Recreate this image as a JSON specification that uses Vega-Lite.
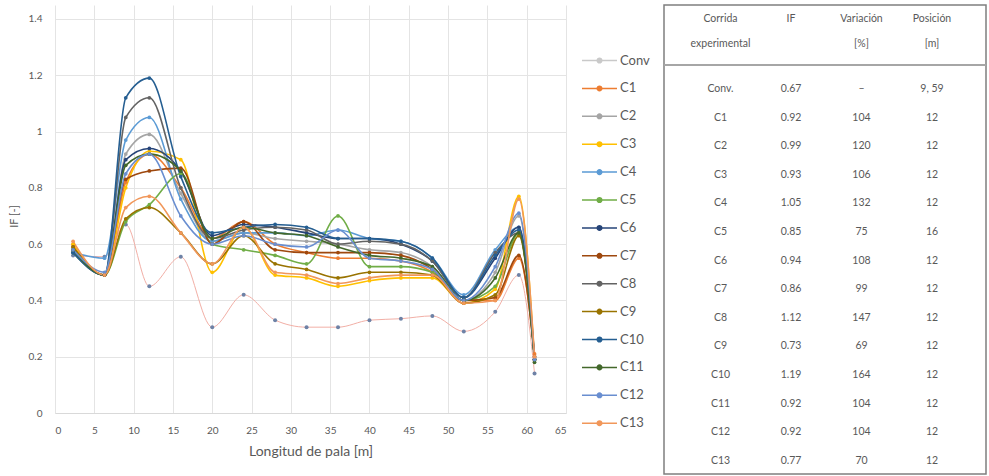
{
"$schema":"https://vega.github.io/schema/vega-lite/v6.json",
"padding":{"left":8,"top":4,"right":0,"bottom":0},
"background":"white",
"config":{"font":"Lato","view":{"stroke":null},"concat":{"spacing":96}},
"datasets":{
"curvas":[
{"corrida":"Conv","longitud":2.3,"IF":0.56},{"corrida":"Conv","longitud":6.3,"IF":0.555},{"corrida":"Conv","longitud":9,"IF":0.67},{"corrida":"Conv","longitud":12,"IF":0.45},{"corrida":"Conv","longitud":16,"IF":0.555},{"corrida":"Conv","longitud":20,"IF":0.305},{"corrida":"Conv","longitud":24,"IF":0.42},{"corrida":"Conv","longitud":28,"IF":0.33},{"corrida":"Conv","longitud":32,"IF":0.305},{"corrida":"Conv","longitud":36,"IF":0.305},{"corrida":"Conv","longitud":40,"IF":0.33},{"corrida":"Conv","longitud":44,"IF":0.335},{"corrida":"Conv","longitud":48,"IF":0.345},{"corrida":"Conv","longitud":52,"IF":0.29},{"corrida":"Conv","longitud":56,"IF":0.36},{"corrida":"Conv","longitud":59,"IF":0.49},{"corrida":"Conv","longitud":61,"IF":0.14},
{"corrida":"C1","longitud":2.3,"IF":0.60},{"corrida":"C1","longitud":6.3,"IF":0.49},{"corrida":"C1","longitud":9,"IF":0.82},{"corrida":"C1","longitud":12,"IF":0.92},{"corrida":"C1","longitud":16,"IF":0.80},{"corrida":"C1","longitud":20,"IF":0.62},{"corrida":"C1","longitud":24,"IF":0.68},{"corrida":"C1","longitud":28,"IF":0.60},{"corrida":"C1","longitud":32,"IF":0.57},{"corrida":"C1","longitud":36,"IF":0.55},{"corrida":"C1","longitud":40,"IF":0.55},{"corrida":"C1","longitud":44,"IF":0.54},{"corrida":"C1","longitud":48,"IF":0.50},{"corrida":"C1","longitud":52,"IF":0.40},{"corrida":"C1","longitud":56,"IF":0.40},{"corrida":"C1","longitud":59,"IF":0.55},{"corrida":"C1","longitud":61,"IF":0.21},
{"corrida":"C2","longitud":2.3,"IF":0.58},{"corrida":"C2","longitud":6.3,"IF":0.49},{"corrida":"C2","longitud":9,"IF":0.92},{"corrida":"C2","longitud":12,"IF":0.99},{"corrida":"C2","longitud":16,"IF":0.78},{"corrida":"C2","longitud":20,"IF":0.61},{"corrida":"C2","longitud":24,"IF":0.64},{"corrida":"C2","longitud":28,"IF":0.62},{"corrida":"C2","longitud":32,"IF":0.61},{"corrida":"C2","longitud":36,"IF":0.60},{"corrida":"C2","longitud":40,"IF":0.58},{"corrida":"C2","longitud":44,"IF":0.57},{"corrida":"C2","longitud":48,"IF":0.52},{"corrida":"C2","longitud":52,"IF":0.40},{"corrida":"C2","longitud":56,"IF":0.50},{"corrida":"C2","longitud":59,"IF":0.70},{"corrida":"C2","longitud":61,"IF":0.19},
{"corrida":"C3","longitud":2.3,"IF":0.60},{"corrida":"C3","longitud":6.3,"IF":0.49},{"corrida":"C3","longitud":9,"IF":0.80},{"corrida":"C3","longitud":12,"IF":0.93},{"corrida":"C3","longitud":16,"IF":0.90},{"corrida":"C3","longitud":20,"IF":0.50},{"corrida":"C3","longitud":24,"IF":0.66},{"corrida":"C3","longitud":28,"IF":0.49},{"corrida":"C3","longitud":32,"IF":0.48},{"corrida":"C3","longitud":36,"IF":0.45},{"corrida":"C3","longitud":40,"IF":0.47},{"corrida":"C3","longitud":44,"IF":0.48},{"corrida":"C3","longitud":48,"IF":0.48},{"corrida":"C3","longitud":52,"IF":0.39},{"corrida":"C3","longitud":56,"IF":0.44},{"corrida":"C3","longitud":59,"IF":0.77},{"corrida":"C3","longitud":61,"IF":0.19},
{"corrida":"C4","longitud":2.3,"IF":0.57},{"corrida":"C4","longitud":6.3,"IF":0.55},{"corrida":"C4","longitud":9,"IF":0.97},{"corrida":"C4","longitud":12,"IF":1.05},{"corrida":"C4","longitud":16,"IF":0.76},{"corrida":"C4","longitud":20,"IF":0.61},{"corrida":"C4","longitud":24,"IF":0.64},{"corrida":"C4","longitud":28,"IF":0.64},{"corrida":"C4","longitud":32,"IF":0.63},{"corrida":"C4","longitud":36,"IF":0.65},{"corrida":"C4","longitud":40,"IF":0.62},{"corrida":"C4","longitud":44,"IF":0.61},{"corrida":"C4","longitud":48,"IF":0.55},{"corrida":"C4","longitud":52,"IF":0.42},{"corrida":"C4","longitud":56,"IF":0.58},{"corrida":"C4","longitud":59,"IF":0.66},{"corrida":"C4","longitud":61,"IF":0.20},
{"corrida":"C5","longitud":2.3,"IF":0.57},{"corrida":"C5","longitud":6.3,"IF":0.49},{"corrida":"C5","longitud":9,"IF":0.68},{"corrida":"C5","longitud":12,"IF":0.74},{"corrida":"C5","longitud":16,"IF":0.85},{"corrida":"C5","longitud":20,"IF":0.60},{"corrida":"C5","longitud":24,"IF":0.58},{"corrida":"C5","longitud":28,"IF":0.56},{"corrida":"C5","longitud":32,"IF":0.53},{"corrida":"C5","longitud":36,"IF":0.70},{"corrida":"C5","longitud":40,"IF":0.52},{"corrida":"C5","longitud":44,"IF":0.52},{"corrida":"C5","longitud":48,"IF":0.50},{"corrida":"C5","longitud":52,"IF":0.40},{"corrida":"C5","longitud":56,"IF":0.45},{"corrida":"C5","longitud":59,"IF":0.64},{"corrida":"C5","longitud":61,"IF":0.19},
{"corrida":"C6","longitud":2.3,"IF":0.57},{"corrida":"C6","longitud":6.3,"IF":0.49},{"corrida":"C6","longitud":9,"IF":0.90},{"corrida":"C6","longitud":12,"IF":0.94},{"corrida":"C6","longitud":16,"IF":0.86},{"corrida":"C6","longitud":20,"IF":0.63},{"corrida":"C6","longitud":24,"IF":0.67},{"corrida":"C6","longitud":28,"IF":0.66},{"corrida":"C6","longitud":32,"IF":0.64},{"corrida":"C6","longitud":36,"IF":0.62},{"corrida":"C6","longitud":40,"IF":0.62},{"corrida":"C6","longitud":44,"IF":0.60},{"corrida":"C6","longitud":48,"IF":0.54},{"corrida":"C6","longitud":52,"IF":0.41},{"corrida":"C6","longitud":56,"IF":0.55},{"corrida":"C6","longitud":59,"IF":0.66},{"corrida":"C6","longitud":61,"IF":0.19},
{"corrida":"C7","longitud":2.3,"IF":0.59},{"corrida":"C7","longitud":6.3,"IF":0.49},{"corrida":"C7","longitud":9,"IF":0.83},{"corrida":"C7","longitud":12,"IF":0.86},{"corrida":"C7","longitud":16,"IF":0.87},{"corrida":"C7","longitud":20,"IF":0.60},{"corrida":"C7","longitud":24,"IF":0.68},{"corrida":"C7","longitud":28,"IF":0.58},{"corrida":"C7","longitud":32,"IF":0.57},{"corrida":"C7","longitud":36,"IF":0.57},{"corrida":"C7","longitud":40,"IF":0.57},{"corrida":"C7","longitud":44,"IF":0.56},{"corrida":"C7","longitud":48,"IF":0.51},{"corrida":"C7","longitud":52,"IF":0.40},{"corrida":"C7","longitud":56,"IF":0.41},{"corrida":"C7","longitud":59,"IF":0.56},{"corrida":"C7","longitud":61,"IF":0.20},
{"corrida":"C8","longitud":2.3,"IF":0.58},{"corrida":"C8","longitud":6.3,"IF":0.49},{"corrida":"C8","longitud":9,"IF":1.05},{"corrida":"C8","longitud":12,"IF":1.12},{"corrida":"C8","longitud":16,"IF":0.80},{"corrida":"C8","longitud":20,"IF":0.62},{"corrida":"C8","longitud":24,"IF":0.65},{"corrida":"C8","longitud":28,"IF":0.66},{"corrida":"C8","longitud":32,"IF":0.65},{"corrida":"C8","longitud":36,"IF":0.60},{"corrida":"C8","longitud":40,"IF":0.61},{"corrida":"C8","longitud":44,"IF":0.60},{"corrida":"C8","longitud":48,"IF":0.54},{"corrida":"C8","longitud":52,"IF":0.41},{"corrida":"C8","longitud":56,"IF":0.57},{"corrida":"C8","longitud":59,"IF":0.64},{"corrida":"C8","longitud":61,"IF":0.19},
{"corrida":"C9","longitud":2.3,"IF":0.59},{"corrida":"C9","longitud":6.3,"IF":0.49},{"corrida":"C9","longitud":9,"IF":0.69},{"corrida":"C9","longitud":12,"IF":0.73},{"corrida":"C9","longitud":16,"IF":0.64},{"corrida":"C9","longitud":20,"IF":0.53},{"corrida":"C9","longitud":24,"IF":0.63},{"corrida":"C9","longitud":28,"IF":0.53},{"corrida":"C9","longitud":32,"IF":0.51},{"corrida":"C9","longitud":36,"IF":0.48},{"corrida":"C9","longitud":40,"IF":0.50},{"corrida":"C9","longitud":44,"IF":0.50},{"corrida":"C9","longitud":48,"IF":0.49},{"corrida":"C9","longitud":52,"IF":0.39},{"corrida":"C9","longitud":56,"IF":0.42},{"corrida":"C9","longitud":59,"IF":0.63},{"corrida":"C9","longitud":61,"IF":0.19},
{"corrida":"C10","longitud":2.3,"IF":0.57},{"corrida":"C10","longitud":6.3,"IF":0.49},{"corrida":"C10","longitud":9,"IF":1.12},{"corrida":"C10","longitud":12,"IF":1.19},{"corrida":"C10","longitud":16,"IF":0.84},{"corrida":"C10","longitud":20,"IF":0.64},{"corrida":"C10","longitud":24,"IF":0.66},{"corrida":"C10","longitud":28,"IF":0.67},{"corrida":"C10","longitud":32,"IF":0.66},{"corrida":"C10","longitud":36,"IF":0.62},{"corrida":"C10","longitud":40,"IF":0.62},{"corrida":"C10","longitud":44,"IF":0.61},{"corrida":"C10","longitud":48,"IF":0.55},{"corrida":"C10","longitud":52,"IF":0.41},{"corrida":"C10","longitud":56,"IF":0.56},{"corrida":"C10","longitud":59,"IF":0.65},{"corrida":"C10","longitud":61,"IF":0.19},
{"corrida":"C11","longitud":2.3,"IF":0.58},{"corrida":"C11","longitud":6.3,"IF":0.49},{"corrida":"C11","longitud":9,"IF":0.88},{"corrida":"C11","longitud":12,"IF":0.92},{"corrida":"C11","longitud":16,"IF":0.86},{"corrida":"C11","longitud":20,"IF":0.62},{"corrida":"C11","longitud":24,"IF":0.66},{"corrida":"C11","longitud":28,"IF":0.64},{"corrida":"C11","longitud":32,"IF":0.63},{"corrida":"C11","longitud":36,"IF":0.59},{"corrida":"C11","longitud":40,"IF":0.56},{"corrida":"C11","longitud":44,"IF":0.55},{"corrida":"C11","longitud":48,"IF":0.52},{"corrida":"C11","longitud":52,"IF":0.40},{"corrida":"C11","longitud":56,"IF":0.48},{"corrida":"C11","longitud":59,"IF":0.64},{"corrida":"C11","longitud":61,"IF":0.18},
{"corrida":"C12","longitud":2.3,"IF":0.58},{"corrida":"C12","longitud":6.3,"IF":0.50},{"corrida":"C12","longitud":9,"IF":0.85},{"corrida":"C12","longitud":12,"IF":0.92},{"corrida":"C12","longitud":16,"IF":0.70},{"corrida":"C12","longitud":20,"IF":0.60},{"corrida":"C12","longitud":24,"IF":0.63},{"corrida":"C12","longitud":28,"IF":0.60},{"corrida":"C12","longitud":32,"IF":0.59},{"corrida":"C12","longitud":36,"IF":0.65},{"corrida":"C12","longitud":40,"IF":0.55},{"corrida":"C12","longitud":44,"IF":0.54},{"corrida":"C12","longitud":48,"IF":0.51},{"corrida":"C12","longitud":52,"IF":0.40},{"corrida":"C12","longitud":56,"IF":0.52},{"corrida":"C12","longitud":59,"IF":0.71},{"corrida":"C12","longitud":61,"IF":0.19},
{"corrida":"C13","longitud":2.3,"IF":0.61},{"corrida":"C13","longitud":6.3,"IF":0.49},{"corrida":"C13","longitud":9,"IF":0.73},{"corrida":"C13","longitud":12,"IF":0.77},{"corrida":"C13","longitud":16,"IF":0.64},{"corrida":"C13","longitud":20,"IF":0.53},{"corrida":"C13","longitud":24,"IF":0.66},{"corrida":"C13","longitud":28,"IF":0.50},{"corrida":"C13","longitud":32,"IF":0.49},{"corrida":"C13","longitud":36,"IF":0.46},{"corrida":"C13","longitud":40,"IF":0.48},{"corrida":"C13","longitud":44,"IF":0.49},{"corrida":"C13","longitud":48,"IF":0.49},{"corrida":"C13","longitud":52,"IF":0.39},{"corrida":"C13","longitud":56,"IF":0.40},{"corrida":"C13","longitud":59,"IF":0.76},{"corrida":"C13","longitud":61,"IF":0.20}
],
"tabla":[
{"fila":-2.45,"Corrida":"Corrida","IF":"IF","Variacion":"Variación","Posicion":"Posición"},
{"fila":-1.57,"Corrida":"experimental","IF":"","Variacion":"[%]","Posicion":"[m]"},
{"fila":0,"Corrida":"Conv.","IF":"0.67","Variacion":"–","Posicion":"9, 59"},
{"fila":1,"Corrida":"C1","IF":"0.92","Variacion":"104","Posicion":"12"},
{"fila":2,"Corrida":"C2","IF":"0.99","Variacion":"120","Posicion":"12"},
{"fila":3,"Corrida":"C3","IF":"0.93","Variacion":"106","Posicion":"12"},
{"fila":4,"Corrida":"C4","IF":"1.05","Variacion":"132","Posicion":"12"},
{"fila":5,"Corrida":"C5","IF":"0.85","Variacion":"75","Posicion":"16"},
{"fila":6,"Corrida":"C6","IF":"0.94","Variacion":"108","Posicion":"12"},
{"fila":7,"Corrida":"C7","IF":"0.86","Variacion":"99","Posicion":"12"},
{"fila":8,"Corrida":"C8","IF":"1.12","Variacion":"147","Posicion":"12"},
{"fila":9,"Corrida":"C9","IF":"0.73","Variacion":"69","Posicion":"12"},
{"fila":10,"Corrida":"C10","IF":"1.19","Variacion":"164","Posicion":"12"},
{"fila":11,"Corrida":"C11","IF":"0.92","Variacion":"104","Posicion":"12"},
{"fila":12,"Corrida":"C12","IF":"0.92","Variacion":"104","Posicion":"12"},
{"fila":13,"Corrida":"C13","IF":"0.77","Variacion":"70","Posicion":"12"}
]
},
"hconcat":[
{
"width":511,"height":408,
"data":{"name":"curvas"},
"encoding":{
"x":{"field":"longitud","type":"quantitative","scale":{"domain":[0,65],"nice":false,"zero":false},
"axis":{"values":[0,5,10,15,20,25,30,35,40,45,50,55,60,65],"title":"Longitud de pala [m]","grid":true,"gridColor":"#E4E4E4","ticks":false,"domainColor":"#D9D9D9","labelFontSize":10,"labelColor":"#595959","labelPadding":12,"titleFontSize":14,"titleFontWeight":"normal","titleColor":"#595959","titlePadding":9}},
"y":{"field":"IF","type":"quantitative","scale":{"domain":[0,1.4497],"nice":false},
"axis":{"values":[0,0.2,0.4,0.6,0.8,1,1.2,1.4],"format":"~g","title":"IF [-]","grid":true,"gridColor":"#E4E4E4","ticks":false,"domain":false,"labelFontSize":10,"labelColor":"#595959","labelPadding":13,"titleFontSize":11,"titleFontWeight":"normal","titleColor":"#595959","titlePadding":9,"titleY":211}}
},
"layer":[
{"data":{"values":[{}]},
"mark":{"type":"rect","color":"white","opacity":1},
"encoding":{"x":{"datum":0},"x2":{"datum":65},"y":{"datum":1.4497},"y2":{"datum":1.4015}}},
{"transform":[{"filter":"datum.corrida === 'Conv'"}],
"mark":{"type":"line","interpolate":"monotone","strokeWidth":1,"color":"#F2AFA6"}},
{"transform":[{"filter":"datum.corrida === 'Conv'"}],
"mark":{"type":"point","filled":true,"size":16,"color":"#6E82A6","opacity":1}},
{"transform":[{"filter":"datum.corrida !== 'Conv'"}],
"mark":{"type":"line","interpolate":"monotone","strokeWidth":1.6,"point":{"filled":true,"size":14}},
"encoding":{"color":{"field":"corrida","type":"nominal",
"scale":{"domain":["Conv","C1","C2","C3","C4","C5","C6","C7","C8","C9","C10","C11","C12","C13"],
"range":["#C9C9C9","#ED7D31","#A5A5A5","#FFC000","#5B9BD5","#70AD47","#264478","#9E480E","#636363","#997300","#255E91","#43682B","#698ED0","#F1975A"]},
"legend":{"title":null,"orient":"none","legendX":526,"legendY":37,"padding":0,
"symbolType":"M-1,0H1M0.13,0A0.13,0.13,0,1,1,-0.13,0A0.13,0.13,0,1,1,0.13,0Z","symbolSize":1225,"symbolStrokeWidth":1.5,
"labelFontSize":13,"labelColor":"#595959","labelOffset":2,"rowPadding":1.9,
"encode":{"symbols":{"update":{"fill":{"scale":"color","field":"value"}}}}}}}}
]
},
{
"width":322,"height":469,
"view":{"stroke":"#7F7F7F","strokeWidth":1.5},
"layer":[
{"data":{"values":[{}]},
"mark":{"type":"rule","stroke":"#A6A6A6","strokeWidth":2},
"encoding":{"y":{"datum":-0.839,"type":"quantitative","scale":{"domain":[-2.937,13.46],"reverse":true,"nice":false,"zero":false},"axis":null}}},
{"data":{"name":"tabla"},
"transform":[{"fold":["Corrida","IF","Variacion","Posicion"],"as":["columna","texto"]}],
"mark":{"type":"text","fontSize":10.5,"color":"#595959"},
"encoding":{
"x":{"field":"columna","type":"nominal","scale":{"type":"point","padding":0,"domain":["Corrida","IF","Variacion","Posicion"],"range":[56.5,268]},"axis":null},
"y":{"field":"fila","type":"quantitative","scale":{"domain":[-2.937,13.46],"reverse":true,"nice":false,"zero":false},"axis":null},
"text":{"field":"texto"}}}
]
}
]
}
